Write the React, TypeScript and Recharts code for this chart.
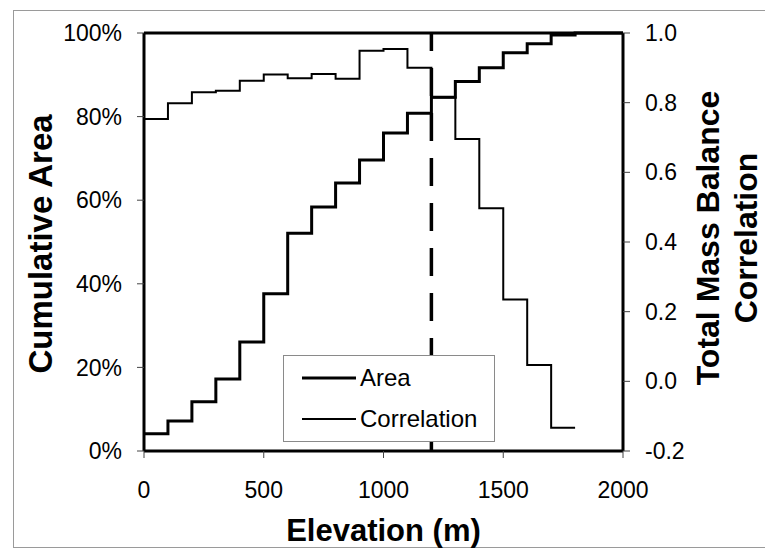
import React from "react";
import {
  ComposedChart,
  Line,
  XAxis,
  YAxis,
  ReferenceLine,
  Legend,
} from "recharts";

const elevations = [0, 100, 200, 300, 400, 500, 600, 700, 800, 900, 1000, 1100, 1200, 1300, 1400, 1500, 1600, 1700, 1800, 1900, 2000];
const cumulativeArea = [4.1, 7.2, 11.8, 17.2, 26.1, 37.6, 52.1, 58.4, 64.1, 69.6, 76.1, 80.8, 84.6, 88.4, 91.7, 95.3, 97.4, 99.5, 100, 100, 100];
const correlation: (number | null)[] = [0.753, 0.798, 0.83, 0.834, 0.863, 0.881, 0.87, 0.882, 0.869, 0.949, 0.954, 0.9, 0.815, 0.696, 0.497, 0.235, 0.047, -0.133, -0.133, null, null];

const xTicks = [0, 500, 1000, 1500, 2000];
const leftTicks = [0, 20, 40, 60, 80, 100];
const rightTicks = [-0.2, 0, 0.2, 0.4, 0.6, 0.8, 1.0];
const thresholdElevation = 1200;

const data = elevations.map((e, i) => ({
  elev: e,
  area: cumulativeArea[i],
  corr: correlation[i],
}));

const FONT = '"Liberation Sans", Arial, Helvetica, sans-serif';

const LeftTitle = (props: any) => {
  const vb = props.viewBox || { x: 0, y: 33, width: 144, height: 418 };
  const cx = vb.x + 52;
  const cy = vb.y + vb.height / 2 + 2;
  return (
    <text
      x={cx}
      y={cy}
      transform={`rotate(-90, ${cx}, ${cy})`}
      textAnchor="middle"
      fontFamily={FONT}
      fontWeight="bold"
      fontSize={33}
      fill="#000"
    >
      Cumulative Area
    </text>
  );
};

const RightTitle = (props: any) => {
  const vb = props.viewBox || { x: 623, y: 33, width: 142, height: 418 };
  const cy = vb.y + vb.height / 2 - 4;
  const x1 = vb.x + 96;
  const x2 = vb.x + 134;
  return (
    <g>
      <text
        x={x1}
        y={cy}
        transform={`rotate(-90, ${x1}, ${cy})`}
        textAnchor="middle"
        fontFamily={FONT}
        fontWeight="bold"
        fontSize={32}
        fill="#000"
      >
        Total Mass Balance
      </text>
      <text
        x={x2}
        y={cy}
        transform={`rotate(-90, ${x2}, ${cy})`}
        textAnchor="middle"
        fontFamily={FONT}
        fontWeight="bold"
        fontSize={32}
        fill="#000"
      >
        Correlation
      </text>
    </g>
  );
};

const BottomTitle = (props: any) => {
  const vb = props.viewBox || { x: 144, y: 451, width: 479, height: 104 };
  const cx = vb.x + vb.width / 2;
  return (
    <text
      x={cx}
      y={vb.y + 90}
      textAnchor="middle"
      fontFamily={FONT}
      fontWeight="bold"
      fontSize={31}
      fill="#000"
    >
      Elevation (m)
    </text>
  );
};

const renderLegend = () => (
  <div
    style={{
      width: 212,
      height: 87,
      boxSizing: "border-box",
      border: "1px solid #8a8a8a",
      background: "#fff",
      fontFamily: FONT,
      fontSize: 24,
      color: "#000",
      position: "relative",
    }}
  >
    <div style={{ position: "absolute", left: 18, top: 8, display: "flex", alignItems: "center", height: 28 }}>
      <svg width={54} height={10} style={{ display: "block" }}>
        <line x1={0} y1={5} x2={54} y2={5} stroke="#000" strokeWidth={3} />
      </svg>
      <span style={{ marginLeft: 4 }}>Area</span>
    </div>
    <div style={{ position: "absolute", left: 18, top: 49, display: "flex", alignItems: "center", height: 28 }}>
      <svg width={54} height={10} style={{ display: "block" }}>
        <line x1={0} y1={5} x2={54} y2={5} stroke="#000" strokeWidth={2} />
      </svg>
      <span style={{ marginLeft: 4 }}>Correlation</span>
    </div>
  </div>
);

export default function App() {
  return (
    <div style={{ position: "absolute", left: 0, top: 0, width: 765, height: 555, background: "#fff" }}>
      <div
        style={{
          position: "absolute",
          left: 13,
          top: 10,
          width: 752,
          height: 538,
          boxSizing: "border-box",
          borderLeft: "1px solid #9a9a9a",
          borderTop: "1px solid #9a9a9a",
          borderBottom: "1px solid #9a9a9a",
        }}
      />
      <ComposedChart
        width={765}
        height={555}
        data={data}
        margin={{ top: 33, right: 0, bottom: 0, left: 0 }}
        style={{ position: "absolute", left: 0, top: 0 }}
      >
        <XAxis
          dataKey="elev"
          type="number"
          domain={[0, 2000]}
          ticks={xTicks}
          height={104}
          tickSize={7}
          tickMargin={24}
          tick={{ fontSize: 23, fill: "#000", fontFamily: FONT }}
          axisLine={{ stroke: "#000", strokeWidth: 3 }}
          tickLine={{ stroke: "#444", strokeWidth: 1 }}
          label={{ content: BottomTitle }}
        />
        <YAxis
          yAxisId="left"
          domain={[0, 100]}
          ticks={leftTicks}
          width={144}
          tickSize={7}
          tickMargin={15}
          tickFormatter={(v: number) => `${v}%`}
          tick={{ fontSize: 23, fill: "#000", fontFamily: FONT }}
          axisLine={{ stroke: "#000", strokeWidth: 3 }}
          tickLine={{ stroke: "#444", strokeWidth: 1 }}
          label={{ content: LeftTitle }}
        />
        <YAxis
          yAxisId="right"
          orientation="right"
          domain={[-0.2, 1.0]}
          ticks={rightTicks}
          width={142}
          tickSize={7}
          tickMargin={15}
          tickFormatter={(v: number) => v.toFixed(1)}
          tick={{ fontSize: 23, fill: "#000", fontFamily: FONT }}
          axisLine={{ stroke: "#000", strokeWidth: 3 }}
          tickLine={{ stroke: "#444", strokeWidth: 1 }}
          label={{ content: RightTitle }}
        />
        <ReferenceLine yAxisId="left" y={100} stroke="#000" strokeWidth={3} />
        <ReferenceLine
          yAxisId="left"
          x={thresholdElevation}
          stroke="#000"
          strokeWidth={3.5}
          strokeDasharray="28 17"
          strokeDashoffset={5}
        />
        <Line
          yAxisId="left"
          type="stepAfter"
          dataKey="area"
          name="Area"
          stroke="#000"
          strokeWidth={3}
          dot={false}
          activeDot={false}
          isAnimationActive={false}
        />
        <Line
          yAxisId="right"
          type="stepAfter"
          dataKey="corr"
          name="Correlation"
          stroke="#000"
          strokeWidth={2}
          dot={false}
          activeDot={false}
          connectNulls={false}
          isAnimationActive={false}
        />
        <Legend
          layout="vertical"
          align="center"
          verticalAlign="middle"
          content={renderLegend}
          wrapperStyle={{ left: 283, top: 355, width: 212, height: 87 }}
        />
      </ComposedChart>
    </div>
  );
}
